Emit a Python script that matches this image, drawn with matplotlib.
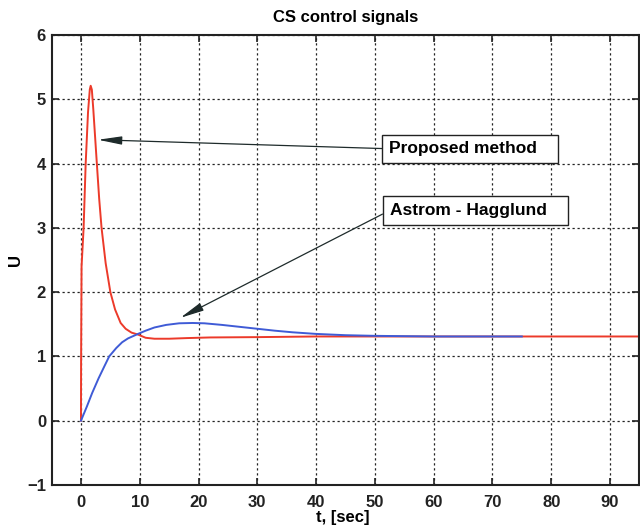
import matplotlib
matplotlib.use("Agg")
import matplotlib.pyplot as plt

plt.rcParams['font.family'] = ['Liberation Sans', 'DejaVu Sans']
plt.rcParams['font.weight'] = 'bold'

# proposed method control signal
t_prop = [0, 0.02, 0.1, 0.45, 0.8, 1.2, 1.5, 1.65, 1.85, 2.1, 2.45, 2.7, 3.1, 3.5,
          4.2, 5.0, 5.8, 6.75, 7.6, 8.6, 9.7, 11, 12.5, 15, 18, 22, 30, 40, 60, 100]
u_prop = [0, 0.9, 2.4, 3.0, 4.0, 4.8, 5.15, 5.21, 5.15, 4.84, 4.35, 4.0, 3.45, 3.0,
          2.45, 2.0, 1.73, 1.52, 1.43, 1.37, 1.34, 1.29, 1.275, 1.275, 1.285, 1.295,
          1.3, 1.31, 1.31, 1.31]

# Astrom - Hagglund control signal
t_ah = [0, 0.5, 1, 1.9, 3, 4, 4.8, 6, 7, 8, 9.7, 11, 12.5, 14.5, 16.7, 19, 21, 24,
        27, 30, 33, 36, 40, 45, 50, 60, 75]
u_ah = [0, 0.11, 0.22, 0.43, 0.66, 0.85, 1.0, 1.13, 1.22, 1.28, 1.35, 1.40, 1.45,
        1.49, 1.515, 1.52, 1.515, 1.49, 1.46, 1.43, 1.40, 1.375, 1.35, 1.33, 1.32,
        1.31, 1.31]

xticks = [0, 10, 20, 30, 40, 50, 60, 70, 80, 90]
yticks = [-1, 0, 1, 2, 3, 4, 5, 6]

fig = plt.figure(figsize=(6.4, 5.29), dpi=100)
ax = fig.add_axes([0.0806, 0.0832, 0.9184, 0.8507])

ax.plot(t_prop, u_prop, color='#ec3a2a', lw=1.4)
ax.plot(t_ah, u_ah, color='#3f5bd6', lw=1.4)

ax.set_xlim(-5, 95)
ax.set_ylim(-1, 6)
ax.set_xticks(xticks)
ax.set_yticks(yticks)
ax.grid(True, color='#222222', linestyle=(0, (1.8, 2.2)), lw=0.9)
ax.tick_params(direction='in', top=True, right=True, length=5, width=1.2,
               labelsize=12, colors='#222222')
ax.tick_params(axis='x', pad=7)
ax.tick_params(axis='y', pad=4)
for s in ax.spines.values():
    s.set_linewidth(1.5)
    s.set_color('#222222')

ax.set_title('CS control signals', fontsize=12, fontweight='bold', pad=9)
ax.set_xlabel('t, [sec]', fontsize=12, fontweight='bold')
ax.set_ylabel('U', fontsize=12, fontweight='bold')
ax.xaxis.label.set_va('center')
ax.yaxis.label.set_va('center')
ax.xaxis.set_label_coords(0.4957, -0.0733)
ax.yaxis.set_label_coords(-0.0606, 0.5)

box = dict(boxstyle='square,pad=0.38', fc='white', ec='#222222', lw=1.0)
arrow = dict(arrowstyle='-|>,head_length=0.8,head_width=0.14', color='#1e2b2b',
             lw=0.9, shrinkA=0, shrinkB=0, relpos=(0, 0.5), mutation_scale=18)
ax.annotate('Proposed method   ', xy=(2.9, 4.37), xytext=(52.4, 4.23),
            fontsize=12.5, fontweight='bold', va='center', ha='left',
            bbox=box, arrowprops=arrow)
ax.annotate('Astrom - Hagglund   ', xy=(16.9, 1.6), xytext=(52.5, 3.27),
            fontsize=12.5, fontweight='bold', va='center', ha='left',
            bbox=box, arrowprops=arrow)

fig.savefig('out.png', dpi=100)
